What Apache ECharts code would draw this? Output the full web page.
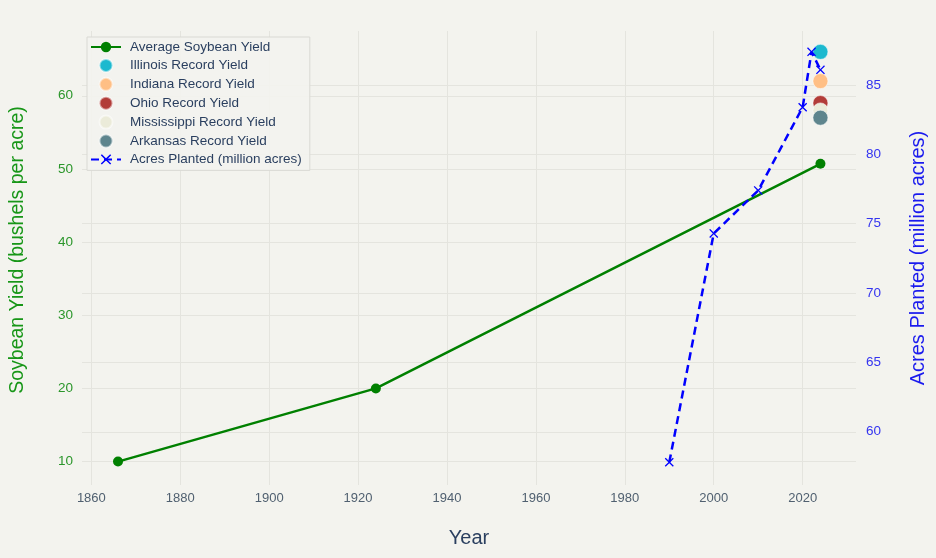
<!DOCTYPE html>
<html>
<head>
<meta charset="utf-8">
<title>Soybean Yield</title>
<script src="https://cdn.jsdelivr.net/npm/echarts@6/dist/echarts.min.js"></script>
<style>
    html, body {margin: 0; padding: 0; background: #f3f3ee;}
    #main {width: 936px; height: 558px;}
</style>
</head>
<body>
<div id="main"></div>
<script>
// average yield (bushels per acre)
var avgYears = [1866, 1924, 2024];
var avgYield = [10, 20, 50.7];

// state record yields, all in 2024
var recordYear = 2024;
var recordStates = ['Illinois', 'Indiana', 'Ohio', 'Mississippi', 'Arkansas'];
var recordYields = [66, 62, 59, 58, 57];
var recordColors = ['#1cb9cf', '#ffbf85', '#b23c38', '#ebebd9', '#5e858d'];

// acres planted (million acres)
var acreYears = [1990, 2000, 2010, 2020, 2022, 2024];
var acres = [57.8, 74.3, 77.4, 83.4, 87.4, 86.1];

var FONT = 'Liberation Sans, Arial, sans-serif';
var GRID_COLOR = '#e4e4de';

renderChart();

function zip(xs, ys) {
    return xs.map(function (x, i) {
        return [x, ys[i]];
    });
}

function renderChart() {
    var myChart = echarts.init(document.getElementById('main'));

    var series = [{
        name: 'Average Soybean Yield',
        type: 'line',
        yAxisIndex: 0,
        data: zip(avgYears, avgYield),
        symbol: 'circle',
        symbolSize: 10,
        itemStyle: {color: '#008000'},
        lineStyle: {color: '#008000', width: 2.5},
        z: 2
    }];

    // one scatter series per state so each gets its own legend entry
    recordStates.forEach(function (state, i) {
        series.push({
            name: state + ' Record Yield',
            type: 'scatter',
            yAxisIndex: 0,
            data: [[recordYear, recordYields[i]]],
            symbol: 'circle',
            symbolSize: 15,
            itemStyle: {
                color: recordColors[i],
                borderColor: 'rgba(255,255,255,0.5)',
                borderWidth: 1,
                opacity: 1
            },
            z: 3
        });
    });

    series.push({
        name: 'Acres Planted (million acres)',
        type: 'line',
        yAxisIndex: 1,
        data: zip(acreYears, acres),
        symbol: 'path://M0,1L1,0L5,4L9,0L10,1L6,5L10,9L9,10L5,6L1,10L0,9L4,5Z',
        symbolSize: 9,
        itemStyle: {color: '#0000ff'},
        lineStyle: {color: '#0000ff', width: 2.5, type: [8, 5]},
        z: 4
    });

    var option = {
        backgroundColor: '#f3f3ee',
        animation: false,
        textStyle: {fontFamily: FONT},
        grid: {
            left: 80,
            right: 79,
            top: 31,
            bottom: 73,
            containLabel: false
        },
        legend: {
            orient: 'vertical',
            left: 87,
            top: 37,
            padding: [3, 8, 4, 3],
            itemWidth: 30,
            itemHeight: 13,
            itemGap: 3.9,
            backgroundColor: 'rgba(243,243,238,0.9)',
            borderColor: '#d9d9d4',
            borderWidth: 1,
            textStyle: {
                fontFamily: FONT, fontSize: 13.5, color: '#2a3f5f',
                padding: [0, 0, 0, 4]
            },
            data: series.map(function (s) {
                return s.name;
            })
        },
        xAxis: {
            type: 'value',
            name: 'Year',
            nameLocation: 'middle',
            nameGap: 43,
            nameTextStyle: {fontFamily: FONT, fontSize: 20, color: '#2a3f5f'},
            min: 1857.9,
            max: 2032,
            splitNumber: 8,
            axisLine: {show: false},
            axisTick: {show: false},
            axisLabel: {
                fontFamily: FONT, fontSize: 13, color: '#506070', margin: 7,
                showMinLabel: false, showMaxLabel: false,
                formatter: function (v) {
                    return String(v);
                }
            },
            splitLine: {
                show: true, showMinLine: false, showMaxLine: false,
                lineStyle: {color: GRID_COLOR, width: 1}
            }
        },
        yAxis: [{
            type: 'value',
            position: 'left',
            name: 'Soybean Yield (bushels per acre)',
            nameLocation: 'middle',
            nameGap: 54,
            nameTextStyle: {fontFamily: FONT, fontSize: 19.5, color: '#179617', padding: [0, 0, 0, 16]},
            min: 6.8,
            max: 68.85,
            splitNumber: 5,
            axisLine: {show: false},
            axisTick: {show: false},
            axisLabel: {
                fontFamily: FONT, fontSize: 13.5, color: '#2b962b', margin: 9,
                showMinLabel: false, showMaxLabel: false
            },
            splitLine: {
                show: true, showMinLine: false, showMaxLine: false,
                lineStyle: {color: GRID_COLOR, width: 1}
            }
        }, {
            type: 'value',
            position: 'right',
            name: 'Acres Planted (million acres)',
            nameLocation: 'middle',
            nameGap: 52,
            nameRotate: 90,
            nameTextStyle: {fontFamily: FONT, fontSize: 20, color: '#1a1aee'},
            min: 56.16,
            max: 88.9,
            splitNumber: 5,
            alignTicks: false,
            axisLine: {show: false},
            axisTick: {show: false},
            axisLabel: {
                fontFamily: FONT, fontSize: 13.5, color: '#3434f0', margin: 10,
                showMinLabel: false, showMaxLabel: false
            },
            splitLine: {
                show: true, showMinLine: false, showMaxLine: false,
                lineStyle: {color: GRID_COLOR, width: 1}
            }
        }],
        series: series
    };

    myChart.setOption(option);
}
</script>
</body>
</html>
